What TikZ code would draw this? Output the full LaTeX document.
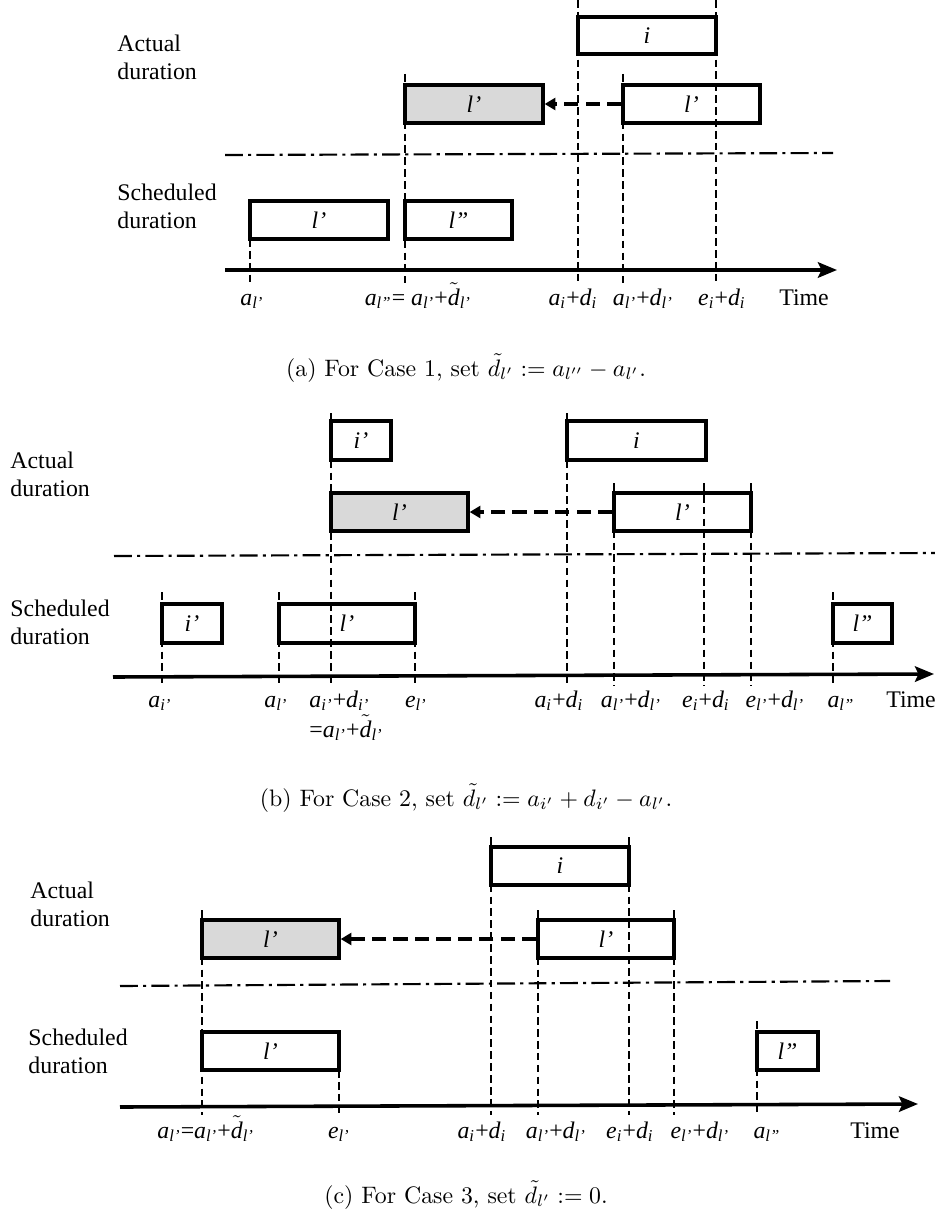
\documentclass[tikz,border=0pt]{standalone}
\usepackage[no-math]{fontspec}
\newfontfamily\tnr{Liberation Serif}
\usetikzlibrary{arrows.meta}
\newcommand{\V}[2]{\textit{#1}\textsubscript{\textit{#2}}}
\newcommand{\Dt}[1]{$\tilde{\hbox{\textit{d}}}$\textsubscript{\textit{#1}}}
\newcommand{\bx}[7][]{\node[tbox,#1,minimum width={(#5-#3)*0.42pt},minimum height={(#6-#4)*0.42pt}] (#2) at ({(#3+#5)/2},{(#4+#6)/2}) {#7};}
\tikzset{
 tbox/.style={draw, line width=1.4pt, inner sep=0pt, font=\tnr\itshape},
 greybox/.style={fill=black!15},
 guide/.style={line width=0.55pt, dash pattern=on 3.2pt off 1.8pt},
 sepline/.style={line width=0.9pt, dash pattern=on 7.5pt off 2.2pt on 1.3pt off 2.2pt},
 timeaxis/.style={line width=1.5pt, -{Stealth[length=8pt,width=6.5pt,inset=1.5pt]}},
 movearrow/.style={line width=1.4pt, dash pattern=on 6pt off 3pt, -{Triangle[length=4.5pt,width=5pt]}},
 lab/.style={font=\tnr, inner sep=0pt, anchor=base},
 sidetxt/.style={font=\tnr\fontsize{10}{11.8}\selectfont, align=left, anchor=west, inner sep=0pt},
 captxt/.style={inner sep=0pt, anchor=base},
}
\begin{document}
\begin{tikzpicture}[x=0.42pt, y=-0.42pt]
\useasboundingbox (0,0) rectangle (935,1215);

% ================= Panel (a) =================
\node[sidetxt] (aact) at (117,57.5) {Actual\\duration};
\node[sidetxt] (asch) at (117,206) {Scheduled\\duration};
\draw[guide] (578,0) -- (578,283);
\draw[guide] (716,0) -- (716,283);
\draw[guide] (405,74) -- (405,283);
\draw[guide] (623,74) -- (623,283);
\draw[guide] (250,239) -- (250,283);
\bx{ai}{578}{17}{716}{54}{i}
\bx[greybox]{agl}{405}{85}{543}{123}{l’}
\bx{awl}{623}{85}{760}{123}{l’}
\bx{asl}{250}{201}{388}{239}{l’}
\bx{asll}{405}{201}{512}{239}{l”}
\draw[movearrow] (awl.west) -- (agl.east);
\coordinate (asep1) at (225,155); \coordinate (asep2) at (833,153);
\draw[sepline] (asep1) -- (asep2);
\coordinate (aax1) at (225,270); \coordinate (aax2) at (837,270);
\draw[timeaxis] (aax1) -- (aax2);
\node[lab] (la1) at (252,305) {\V{a}{l’}};
\node[lab] (la2) at (418,305) {\V{a}{l”}= \V{a}{l’}+\Dt{l’}};
\node[lab] (la3) at (573,305) {\V{a}{i}+\V{d}{i}};
\node[lab] (la4) at (643,305) {\V{a}{l’}+\V{d}{l’}};
\node[lab] (la5) at (722,305) {\V{e}{i}+\V{d}{i}};
\node[lab] (la6) at (804,305) {Time};
\node[captxt] (capa) at (466,376) {(a) For Case 1, set $\tilde{d}_{l'} := a_{l''} - a_{l'}$.};

% ================= Panel (b) =================
\node[sidetxt] (bact) at (10,474) {Actual\\duration};
\node[sidetxt] (bsch) at (10,622) {Scheduled\\duration};
\draw[guide] (331,413) -- (331,686);
\draw[guide] (567,413) -- (567,686);
\draw[guide] (614,483) -- (614,686);
\draw[guide] (704,483) -- (704,686);
\draw[guide] (751,483) -- (751,686);
\draw[guide] (162,592) -- (162,686);
\draw[guide] (279,592) -- (279,686);
\draw[guide] (415,592) -- (415,686);
\draw[guide] (833,592) -- (833,686);
\bx{bip}{331}{421}{391}{460}{i’}
\bx{bi}{567}{421}{706}{460}{i}
\bx[greybox]{bgl}{331}{493}{468}{531}{l’}
\bx{bwl}{614}{493}{751}{531}{l’}
\bx{bsip}{162}{604}{222}{643}{i’}
\bx{bsl}{279}{604}{415}{643}{l’}
\bx{bsll}{833}{604}{892}{643}{l”}
\draw[movearrow] (bwl.west) -- (bgl.east);
\coordinate (bsep1) at (114,556); \coordinate (bsep2) at (935,553);
\draw[sepline] (bsep1) -- (bsep2);
\coordinate (bax1) at (113,677); \coordinate (bax2) at (934,674);
\draw[timeaxis] (bax1) -- (bax2);
\node[lab] (lb1) at (160,707) {\V{a}{i’}};
\node[lab] (lb2) at (276,707) {\V{a}{l’}};
\node[lab, anchor=base west] (lb3) at (309,707) {\V{a}{i’}+\V{d}{i’}};
\node[lab, anchor=base west] (lb3b) at (309,737) {=\V{a}{l’}+\Dt{l’}};
\node[lab] (lb4) at (416,707) {\V{e}{l’}};
\node[lab] (lb5) at (559,707) {\V{a}{i}+\V{d}{i}};
\node[lab] (lb6) at (631,707) {\V{a}{l’}+\V{d}{l’}};
\node[lab] (lb7) at (706,707) {\V{e}{i}+\V{d}{i}};
\node[lab] (lb8) at (775,707) {\V{e}{l’}+\V{d}{l’}};
\node[lab] (lb9) at (841,707) {\V{a}{l”}};
\node[lab] (lb10) at (911,707) {Time};
\node[captxt] (capb) at (466,806) {(b) For Case 2, set $\tilde{d}_{l'} := a_{i'} + d_{i'} - a_{l'}$.};

% ================= Panel (c) =================
\node[sidetxt] (cact) at (30,904) {Actual\\duration};
\node[sidetxt] (csch) at (28,1051) {Scheduled\\duration};
\draw[guide] (491,837) -- (491,1115);
\draw[guide] (629,837) -- (629,1115);
\draw[guide] (202,910) -- (202,1115);
\draw[guide] (538,910) -- (538,1115);
\draw[guide] (674,910) -- (674,1115);
\draw[guide] (339,1070) -- (339,1115);
\draw[guide] (757,1021) -- (757,1115);
\bx{ci}{491}{847}{629}{885}{i}
\bx[greybox]{cgl}{202}{920}{339}{958}{l’}
\bx{cwl}{538}{920}{674}{958}{l’}
\bx{csl}{202}{1032}{339}{1070}{l’}
\bx{csll}{757}{1032}{818}{1070}{l”}
\draw[movearrow] (cwl.west) -- (cgl.east);
\coordinate (csep1) at (120,986); \coordinate (csep2) at (890,981);
\draw[sepline] (csep1) -- (csep2);
\coordinate (cax1) at (120,1107); \coordinate (cax2) at (918,1104);
\draw[timeaxis] (cax1) -- (cax2);
\node[lab, anchor=base west] (lc1) at (157,1138) {\V{a}{l’}=\V{a}{l’}+\Dt{l’}};
\node[lab] (lc2) at (339,1138) {\V{e}{l’}};
\node[lab] (lc3) at (482,1138) {\V{a}{i}+\V{d}{i}};
\node[lab] (lc4) at (556,1138) {\V{a}{l’}+\V{d}{l’}};
\node[lab] (lc5) at (630,1138) {\V{e}{i}+\V{d}{i}};
\node[lab] (lc6) at (700,1138) {\V{e}{l’}+\V{d}{l’}};
\node[lab] (lc7) at (767,1138) {\V{a}{l”}};
\node[lab] (lc8) at (875,1138) {Time};
\node[captxt] (capc) at (466,1203) {(c) For Case 3, set $\tilde{d}_{l'} := 0$.};
\end{tikzpicture}
\end{document}
